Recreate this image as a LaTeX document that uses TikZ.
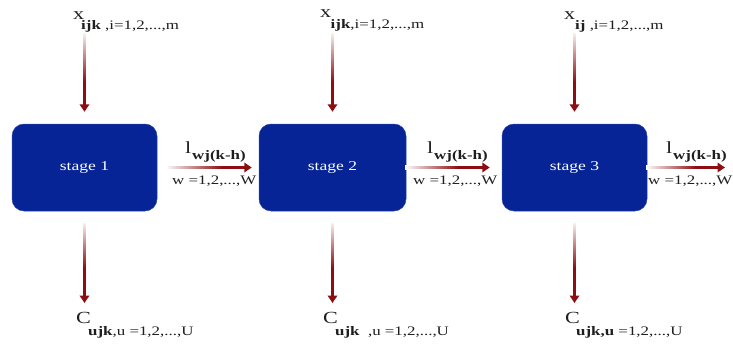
\documentclass[tikz,border=0pt]{standalone}
\usepackage{fontspec}
\setmainfont[FakeStretch=1.3]{Liberation Serif}
\usetikzlibrary{arrows.meta,fadings}

\definecolor{stageblue}{RGB}{6,36,150}
\definecolor{flowred}{RGB}{140,14,18}
\definecolor{labelgrey}{RGB}{30,30,30}

% masks for the pale tails of the flow arrows (white = opaque, black = clear);
% the ramp sits in the middle half, which is what a fitted fading spans
\pgfdeclareverticalshading{tailmaskv}{100bp}{color(0bp)=(black); color(25bp)=(black); color(75bp)=(white); color(100bp)=(white)}
\pgfdeclarefading{tailfadev}{\pgfuseshading{tailmaskv}}
\pgfdeclarehorizontalshading{tailmaskh}{100bp}{color(0bp)=(white); color(25bp)=(white); color(75bp)=(black); color(100bp)=(black)}
\pgfdeclarefading{tailfadeh}{\pgfuseshading{tailmaskh}}

\begin{document}
\begin{tikzpicture}[x=1pt,y=-1pt,
  stagebox/.style={rectangle, rounded corners=12pt, fill=stageblue,
    draw=stageblue!85!white, line width=0.5pt, minimum height=87pt,
    inner sep=0pt, text=white, font=\fontsize{13.5}{15}\selectfont},
  flow/.style={draw=flowred, line width=2.6pt,
    -{Triangle[length=7.5pt,width=9.5pt]}},
  tailv/.style={fill=white, path fading=tailfadev},
  tailh/.style={fill=white, path fading=tailfadeh},
  mainsym/.style={anchor=base west, inner sep=0pt, text=labelgrey,
    font=\fontsize{17}{19}\selectfont},
  subtxt/.style={anchor=base west, inner sep=0pt, text=labelgrey,
    font=\fontsize{13}{15}\selectfont},
]
\useasboundingbox (0,0) rectangle (733,345);

% the three stages
\node[stagebox, minimum width=145pt] (s1) at (84.5,167.5) {stage 1};
\node[stagebox, minimum width=147pt] (s2) at (332.5,167.5) {stage 2};
\node[stagebox, minimum width=145pt] (s3) at (574.5,167.5) {stage 3};

% free ends of the flows
\coordinate (in1) at (84.5,33);
\coordinate (in2) at (332.5,33);
\coordinate (in3) at (574.5,33);
\coordinate (out1) at (84.5,303);
\coordinate (out2) at (332.5,303);
\coordinate (out3) at (574.5,303);
\coordinate (next3) at (725,167.5);

% inputs, outputs and transfers between stages
\draw[flow, shorten >=12pt] (in1) -- (s1);
\draw[flow, shorten >=12pt] (in2) -- (s2);
\draw[flow, shorten >=12pt] (in3) -- (s3);
\draw[flow, shorten <=12pt] (s1) -- (out1);
\draw[flow, shorten <=12pt] (s2) -- (out2);
\draw[flow, shorten <=12pt] (s3) -- (out3);
\draw[flow, shorten <=11pt, shorten >=7pt] (s1) -- (s2);
\draw[flow, shorten <=1pt, shorten >=12pt] (s2) -- (s3);
\draw[flow, shorten <=1pt] (s3) -- (next3);

% pale tails
\fill[tailv] (80.5,30) rectangle (88.5,82);
\fill[tailv] (328.5,30) rectangle (336.5,82);
\fill[tailv] (570.5,30) rectangle (578.5,82);
\fill[tailv] (80.5,220) rectangle (88.5,268);
\fill[tailv] (328.5,220) rectangle (336.5,268);
\fill[tailv] (570.5,220) rectangle (578.5,268);
\fill[tailh] (165,164.6) rectangle (222,170.4);
\fill[tailh] (405,164.6) rectangle (458,170.4);
\fill[tailh] (646,164.6) rectangle (696,170.4);

% input labels
\node[mainsym] (x1) at (73,20) {x};
\node[subtxt] (x1s) at (81,30) {\textbf{ijk} ,i=1,2,...,m};
\node[mainsym] (x2) at (320,18) {x};
\node[subtxt] (x2s) at (330.5,29) {\textbf{ijk},i=1,2,...,m};
\node[mainsym] (x3) at (564,20) {x};
\node[subtxt] (x3s) at (575,29.5) {\textbf{ij} ,i=1,2,...,m};

% output labels
\node[mainsym] (c1) at (76,323) {C};
\node[subtxt] (c1s) at (88,335) {\textbf{ujk},u =1,2,...,U};
\node[mainsym] (c2) at (323,323) {C};
\node[subtxt] (c2s) at (335,335) {\textbf{ujk}\ \ ,u =1,2,...,U};
\node[mainsym] (c3) at (565,323) {C};
\node[subtxt] (c3s) at (576,335) {\textbf{ujk,u} =1,2,...,U};

% transfer labels
\node[mainsym] (l1) at (185,153) {l};
\node[subtxt] (l1s) at (192,159) {\textbf{wj(k-h)}};
\node[subtxt] (w1) at (172,184) {w =1,2,...,W};
\node[mainsym] (l2) at (427,153) {l};
\node[subtxt] (l2s) at (434,159) {\textbf{wj(k-h)}};
\node[subtxt] (w2) at (413,184) {w =1,2,...,W};
\node[mainsym] (l3) at (666,153) {l};
\node[subtxt] (l3s) at (673,159) {\textbf{wj(k-h)}};
\node[subtxt] (w3) at (648,184) {w =1,2,...,W};
\end{tikzpicture}
\end{document}
